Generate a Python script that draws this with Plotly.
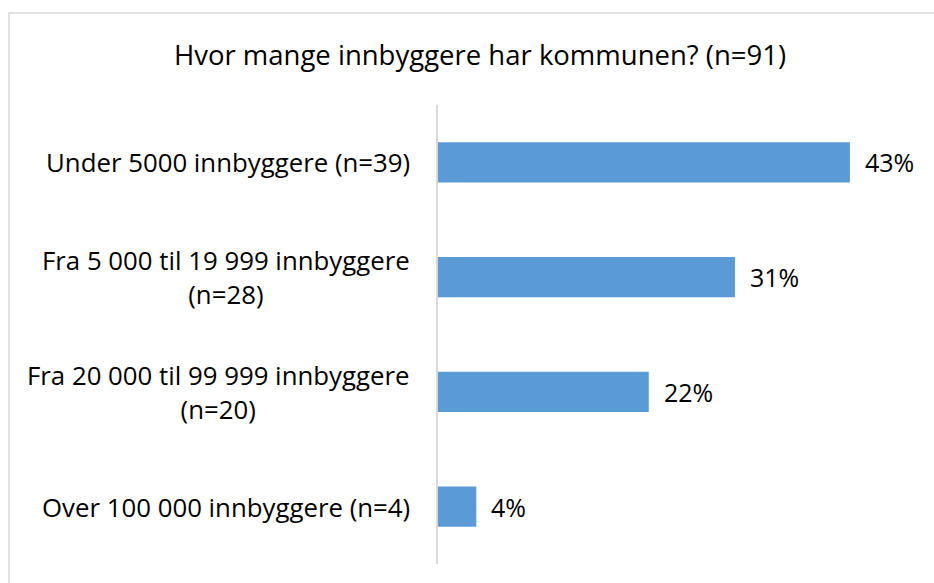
import plotly.graph_objects as go

categories = [
    "Under 5000 innbyggere (n=39)",
    "Fra 5 000 til 19 999 innbyggere<br>(n=28)",
    "Fra 20 000 til 99 999 innbyggere<br>(n=20)",
    "Over 100 000 innbyggere (n=4)",
]
values = [43, 31, 22, 4]
value_labels = ["43%", "31%", "22%", "4%"]
title_text = "Hvor mange innbyggere har kommunen? (n=91)"

FONT = "'Open Sans', sans-serif"
W, H = 934, 583
ML, MR, MT, MB = 438, 17, 105, 19
pw = W - ML - MR
ph = H - MT - MB

fig = go.Figure()
fig.add_trace(go.Bar(
    x=values, y=categories, orientation="h",
    marker=dict(color="#5b9bd5", line=dict(width=0)),
    width=0.35, hoverinfo="skip",
))

annotations = []
for c, v, t in zip(categories, values, value_labels):
    annotations.append(dict(x=v, y=c, xref="x", yref="y", text=t, showarrow=False,
                            xanchor="left", xshift=13,
                            font=dict(family=FONT, size=25, color="#000000")))
    annotations.append(dict(x=0, y=c, xref="paper", yref="y", text=c, showarrow=False,
                            xanchor="right", xshift=-26, align="center",
                            font=dict(family=FONT, size=25.8, color="#000000")))

fig.update_layout(
    width=W, height=H,
    margin=dict(l=ML, r=MR, t=MT, b=MB),
    paper_bgcolor="white", plot_bgcolor="white",
    showlegend=False,
    title=dict(text=title_text, x=480 / W, xref="container", xanchor="center",
               y=1 - 55 / H, yanchor="middle", yref="container",
               font=dict(family=FONT, size=27.5, color="#000000")),
    xaxis=dict(range=[0, 50], visible=False, fixedrange=True),
    yaxis=dict(categoryorder="array", categoryarray=categories[::-1],
               showticklabels=False, showgrid=False, zeroline=False,
               showline=True, linecolor="#d9d9d9", linewidth=2,
               ticks="", fixedrange=True),
    annotations=annotations,
    shapes=[dict(type="rect", xref="paper", yref="paper",
                 x0=(9 - ML) / pw, x1=1.2,
                 y0=-0.3, y1=1 + (MT - 13) / ph,
                 line=dict(color="#d9d9d9", width=1.5), fillcolor="rgba(0,0,0,0)",
                 layer="below")],
)

fig.write_html("out.html", config={"displayModeBar": False},
               post_script="document.body.style.margin='0';")
